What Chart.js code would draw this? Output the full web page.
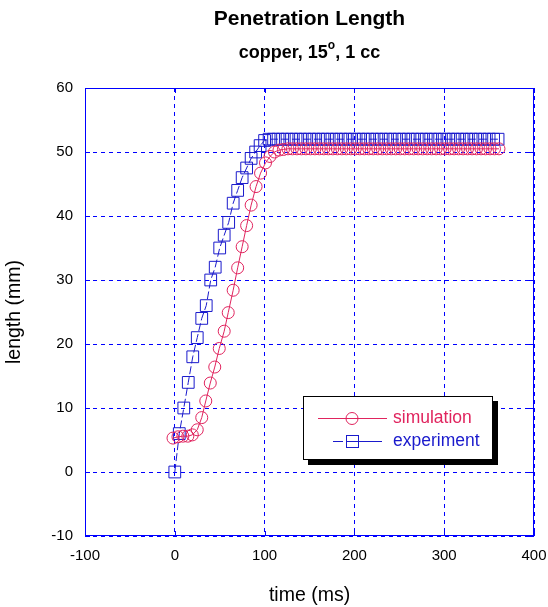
<!DOCTYPE html>
<html>
<head>
<meta charset="utf-8">
<script src="https://cdn.jsdelivr.net/npm/chart.js@4"></script>
<style>
  html, body { margin: 0; padding: 0; background: #fff; }
  canvas { display: block; }
</style>
</head>
<body>
<canvas id="chart" width="548" height="607"></canvas>
<script>
// Simulation: time (ms) and penetration length (mm)
const simTime = [
    -2, 3.5, 9, 14.5, 19.5, 25, 30, 34.5, 39.5, 44.5, 49.5, 55, 59.5, 65, 70, 75, 80, 85, 90.5, 95.5, 101,
    106, 111, 116, 121, 126, 131, 136, 141, 146, 151, 156, 161, 166, 171, 176, 181, 186, 191, 196, 201,
    206, 211, 216, 221, 226, 231, 236, 241, 246, 251, 256, 261, 266, 271, 276, 281, 286, 291, 296, 301,
    306, 311, 316, 321, 326, 331, 336, 341, 346, 351, 356, 361
];
const simLength = [
    5.3, 5.5, 5.6, 5.6, 5.8, 6.6, 8.5, 11.1, 13.9, 16.4, 19.3, 22, 24.9, 28.4, 31.9, 35.2, 38.5, 41.7, 44.6, 46.7, 48.3,
    49.3, 50, 50.3, 50.4, 50.5, 50.5, 50.5, 50.5, 50.5, 50.5, 50.5, 50.5, 50.5, 50.5, 50.5, 50.5, 50.5, 50.5, 50.5, 50.5,
    50.5, 50.5, 50.5, 50.5, 50.5, 50.5, 50.5, 50.5, 50.5, 50.5, 50.5, 50.5, 50.5, 50.5, 50.5, 50.5, 50.5, 50.5, 50.5, 50.5,
    50.5, 50.5, 50.5, 50.5, 50.5, 50.5, 50.5, 50.5, 50.5, 50.5, 50.5, 50.5
];

// Experiment: time (ms) and penetration length (mm)
const expTime = [
    0, 5, 10, 15, 20, 25, 30, 35, 40, 45, 50, 55, 60, 65, 70, 75, 80, 85, 90, 95, 100,
    105, 110, 115, 120, 125, 130, 135, 140, 145, 150, 155, 160, 165, 170, 175, 180, 185, 190, 195, 200,
    205, 210, 215, 220, 225, 230, 235, 240, 245, 250, 255, 260, 265, 270, 275, 280, 285, 290, 295, 300,
    305, 310, 315, 320, 325, 330, 335, 340, 345, 350, 355, 360
];
const expLength = [
    0, 6, 10, 14, 18, 21, 24, 26, 30, 32, 35, 37, 39, 42, 44, 46, 47.5, 49, 50, 51, 51.8,
    52, 52, 52, 52, 52, 52, 52, 52, 52, 52, 52, 52, 52, 52, 52, 52, 52, 52, 52, 52,
    52, 52, 52, 52, 52, 52, 52, 52, 52, 52, 52, 52, 52, 52, 52, 52, 52, 52, 52, 52,
    52, 52, 52, 52, 52, 52, 52, 52, 52, 52, 52, 52
];

const xTicks = [-100, 0, 100, 200, 300, 400];
const yTicks = [-10, 0, 10, 20, 30, 40, 50, 60];

const FONT = '"Liberation Sans", Arial, sans-serif';
const SIM_COLOR = '#e0245e';
const EXP_COLOR = '#1a1acc';
const GRID_COLOR = '#0000ff';

// Frame, inward ticks, titles and the shadowed legend box
const decorations = {
    id: 'decorations',
    afterDraw(chart) {
        const ctx = chart.ctx;
        const area = chart.chartArea;
        const xs = chart.scales.x;
        const ys = chart.scales.y;
        ctx.save();

        // frame
        ctx.strokeStyle = GRID_COLOR;
        ctx.lineWidth = 1;
        ctx.setLineDash([]);
        ctx.strokeRect(area.left + 0.5, area.top + 0.5, area.right - area.left - 1, area.bottom - area.top - 1);

        // inward ticks
        ctx.beginPath();
        xTicks.forEach(v => {
            const px = Math.round(xs.getPixelForValue(v)) + 0.5;
            ctx.moveTo(px, area.bottom); ctx.lineTo(px, area.bottom - 5);
            ctx.moveTo(px, area.top); ctx.lineTo(px, area.top + 5);
        });
        yTicks.forEach(v => {
            const py = Math.round(ys.getPixelForValue(v)) + 0.5;
            ctx.moveTo(area.left, py); ctx.lineTo(area.left + 5, py);
            ctx.moveTo(area.right, py); ctx.lineTo(area.right - 5, py);
        });
        ctx.stroke();

        // titles
        const cx = (area.left + area.right) / 2;
        ctx.fillStyle = '#000';
        ctx.textBaseline = 'middle';
        ctx.textAlign = 'center';
        ctx.font = 'bold 21px ' + FONT;
        ctx.fillText('Penetration Length', cx, 19);

        ctx.textAlign = 'left';
        const partA = 'copper, 15';
        const sup = 'o';
        const partB = ', 1 cc';
        ctx.font = 'bold 18px ' + FONT;
        const wA = ctx.measureText(partA).width;
        const wB = ctx.measureText(partB).width;
        ctx.font = 'bold 12px ' + FONT;
        const wS = ctx.measureText(sup).width;
        let x0 = cx - (wA + wS + wB) / 2;
        ctx.font = 'bold 18px ' + FONT;
        ctx.fillText(partA, x0, 53);
        ctx.font = 'bold 12px ' + FONT;
        ctx.fillText(sup, x0 + wA, 46);
        ctx.font = 'bold 18px ' + FONT;
        ctx.fillText(partB, x0 + wA + wS, 53);

        // legend box with drop shadow
        const bx = 303, by = 396, bw = 190, bh = 64;
        ctx.fillStyle = '#000';
        ctx.fillRect(bx + 5, by + 5, bw, bh);
        ctx.fillStyle = '#fff';
        ctx.fillRect(bx, by, bw, bh);
        ctx.strokeStyle = '#000';
        ctx.lineWidth = 1;
        ctx.strokeRect(bx + 0.5, by + 0.5, bw - 1, bh - 1);

        // simulation entry
        ctx.strokeStyle = SIM_COLOR;
        ctx.beginPath();
        ctx.moveTo(318, 418.5); ctx.lineTo(387, 418.5);
        ctx.stroke();
        ctx.beginPath();
        ctx.arc(352, 418.5, 6, 0, Math.PI * 2);
        ctx.stroke();

        // experiment entry
        ctx.strokeStyle = EXP_COLOR;
        ctx.beginPath();
        ctx.moveTo(333, 441.5); ctx.lineTo(343, 441.5);
        ctx.moveTo(346, 441.5); ctx.lineTo(382, 441.5);
        ctx.stroke();
        ctx.strokeRect(346.5, 435.5, 12, 12);

        ctx.font = '17.5px ' + FONT;
        ctx.textBaseline = 'middle';
        ctx.fillStyle = SIM_COLOR;
        ctx.fillText('simulation', 393, 418);
        ctx.fillStyle = EXP_COLOR;
        ctx.fillText('experiment', 393, 441);

        ctx.restore();
    }
};

new Chart(document.getElementById('chart'), {
    type: 'scatter',
    data: {
        datasets: [
            {
                label: 'simulation',
                data: simTime.map((t, i) => ({ x: t, y: simLength[i] })),
                showLine: true,
                borderColor: SIM_COLOR,
                borderWidth: 1,
                pointStyle: 'circle',
                pointRadius: 6,
                pointBorderWidth: 1,
                pointBorderColor: SIM_COLOR,
                pointBackgroundColor: 'rgba(0,0,0,0)'
            },
            {
                label: 'experiment',
                data: expTime.map((t, i) => ({ x: t, y: expLength[i] })),
                showLine: true,
                borderColor: EXP_COLOR,
                borderWidth: 1,
                borderDash: [8, 3],
                pointStyle: 'rect',
                pointRadius: 8.3,
                pointBorderWidth: 1,
                pointBorderColor: EXP_COLOR,
                pointBackgroundColor: 'rgba(0,0,0,0)'
            }
        ]
    },
    options: {
        responsive: false,
        animation: false,
        devicePixelRatio: 1,
        layout: { padding: { left: 0, top: 88, right: 14, bottom: 0 } },
        plugins: {
            legend: { display: false },
            tooltip: { enabled: false },
            title: { display: false }
        },
        scales: {
            x: {
                type: 'linear',
                min: -100,
                max: 400,
                afterBuildTicks: scale => { scale.ticks = xTicks.map(v => ({ value: v })); },
                afterFit: scale => {
                    scale.height = 71;
                    scale.paddingLeft = 0;
                    scale.paddingRight = 0;
                },
                grid: { color: GRID_COLOR, lineWidth: 1, drawTicks: false },
                border: { display: false, dash: [4, 4] },
                ticks: { color: '#000', font: { family: FONT, size: 15 }, padding: 11 },
                title: {
                    display: true,
                    text: 'time (ms)',
                    color: '#000',
                    font: { family: FONT, size: 19.5 },
                    padding: { top: 0, bottom: 0 }
                }
            },
            y: {
                type: 'linear',
                min: -10,
                max: 60,
                afterBuildTicks: scale => { scale.ticks = yTicks.map(v => ({ value: v })); },
                afterFit: scale => { scale.width = 85; },
                grid: { color: GRID_COLOR, lineWidth: 1, drawTicks: false },
                border: { display: false, dash: [4, 4] },
                ticks: { color: '#000', font: { family: FONT, size: 15 }, padding: 12 },
                title: {
                    display: true,
                    text: 'length (mm)',
                    color: '#000',
                    font: { family: FONT, size: 19.5 },
                    padding: { top: 3, bottom: 0 }
                }
            }
        }
    },
    plugins: [decorations]
});
</script>
</body>
</html>
